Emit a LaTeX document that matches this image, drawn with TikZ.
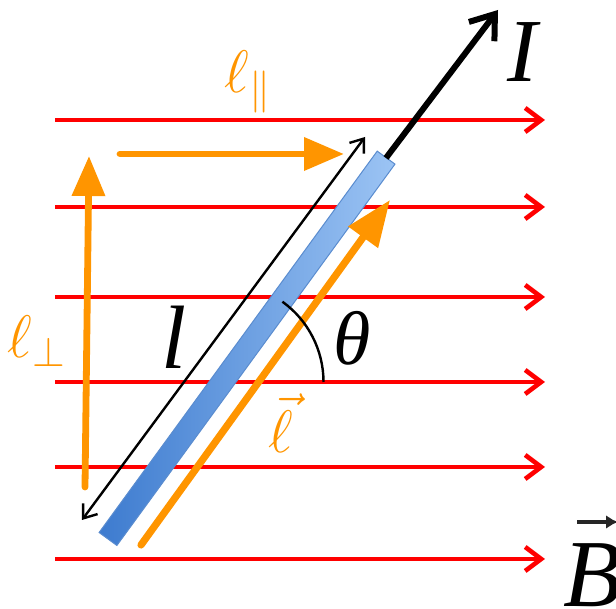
\RequirePackage{fix-cm}
\documentclass[tikz,border=0pt]{standalone}
\usepackage{fontspec}
\newfontfamily\tms{Liberation Serif}
\usepackage{tikz}
\usetikzlibrary{arrows.meta,calc}
\definecolor{fieldc}{HTML}{FF0000}
\definecolor{lenc}{HTML}{FF9500}
\definecolor{barlo}{HTML}{3D7BCF}
\definecolor{barhi}{HTML}{9CC4F4}
\definecolor{barln}{HTML}{5A8CCF}
\tikzset{
  field/.style={draw=fieldc,line width=2.3pt,-{Straight Barb[length=8pt,width=12pt]}},
  cur/.style={draw=black,line width=3pt,-{Straight Barb[length=11pt,width=16pt]}},
  dim/.style={draw=black,line width=1.2pt,{Straight Barb[length=6pt,width=9pt]}-{Straight Barb[length=6pt,width=9pt]}},
  comp/.style={draw=lenc,line width=3.4pt,line cap=round,-{Triangle[length=20pt,width=16pt]}},
  bigcomp/.style={comp,line width=3.6pt,-{Triangle[length=23pt,width=17.5pt]}},
  vecar/.style={draw=black!85,line width=2pt,-{Latex[length=6pt,width=7pt]}},
  bar/.style={left color=barlo,right color=barhi,draw=barln,line width=0.5pt},
  angc/.style={draw=black,line width=1.2pt},
  lbl/.style={inner sep=0pt,font=\tms\itshape\fontsize{45}{54}\selectfont},
  olbl/.style={inner sep=0pt,text=lenc,font=\fontsize{30}{36}\selectfont},
}
\begin{document}
\begin{tikzpicture}[x=0.5pt,y=0.5pt]
  \useasboundingbox (0,0) rectangle (616,609);
  % Feldlinien
  \foreach \y [count=\i] in {489,402,312,227,142,50} {
    \coordinate (fs\i) at (55,\y);
    \coordinate (fe\i) at (545,\y);
    \draw[field] (fs\i) -- (fe\i);
  }
  % Leiter
  \coordinate (wa) at (108,70);
  \coordinate (wb) at (386,451);
  \coordinate (la) at (82,89);
  \coordinate (lb) at (365,472);
  \draw[dim] (la) -- (lb);
  \begin{scope}[shift={(wa)},rotate=53.9]
    \shade[bar] (0,-11) rectangle (472,11);
  \end{scope}
  \coordinate (It) at (498,599);
  \draw[cur] (wb) -- (It);
  % Komponenten
  \coordinate (va) at (141,64);
  \coordinate (vb) at (390,409);
  \coordinate (pa) at (120,455);
  \coordinate (pb) at (344,455);
  \coordinate (qa) at (85,122);
  \coordinate (qb) at (89,453);
  \draw[comp] (pa) -- (pb);
  \draw[comp] (qa) -- (qb);
  \draw[bigcomp] (va) -- (vb);
  % Winkel
  \coordinate (ac) at (224.5,227);
  \draw[angc] (ac) ++(99,0) arc[start angle=0,end angle=54.2,radius=99];
  % Beschriftung
  \node[lbl] (Ilbl) at (522,557) {I};
  \node[lbl,font=\tms\itshape\fontsize{48}{56}\selectfont] (Blbl) at (593,34) {B};
  \coordinate (Bv1) at (577,87);
  \coordinate (Bv2) at (618,87);
  \draw[vecar] (Bv1) -- (Bv2);
  \node[lbl,font=\tms\itshape\fontsize{38}{46}\selectfont] (thlbl) at (352,271) {θ};
  \node[lbl] (llbl) at (174,272) {l};
  \node[olbl] (lpar) at (248,527) {$\ell_{\parallel}$};
  \node[olbl] (lperp) at (37,268) {$\ell_{\perp}$};
  \node[olbl] (lvec) at (281,186) {$\vec{\ell}$};
\end{tikzpicture}
\end{document}
